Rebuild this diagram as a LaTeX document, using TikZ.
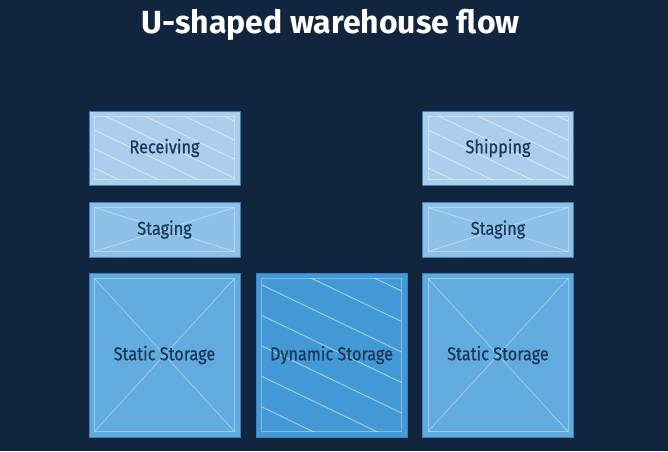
\documentclass[tikz,border=0pt]{standalone}
\usepackage{fontspec}
\setmainfont{Fira Sans}
\newfontfamily\labelfont[FakeStretch=0.88,FakeBold=0.6]{Fira Sans}
\usetikzlibrary{calc}
\definecolor{bgc}{HTML}{11253F}
\definecolor{recvc}{HTML}{AACDEB}
\definecolor{stagc}{HTML}{8DC0E7}
\definecolor{statc}{HTML}{62ABDF}
\definecolor{dync}{HTML}{4299D5}
\definecolor{txtc}{HTML}{1A3758}
\definecolor{edgec}{HTML}{3F80BA}
\tikzset{
  zone/.style={draw=edgec, line width=1pt, minimum width=151pt, inner sep=0pt,
    font=\labelfont\fontsize{18.5}{22}\selectfont, text=txtc},
  innerline/.style={draw=white, draw opacity=0.35, line width=1pt},
  hatchline/.style={draw=white, draw opacity=0.5, line width=1pt},
  titlestyle/.style={font=\bfseries\fontsize{32}{38}\selectfont, text=white}
}
\newcommand\innerrect[1]{%
  \draw[innerline] ([shift={(6pt,-6pt)}]#1.north west) rectangle ([shift={(-6pt,6pt)}]#1.south east);}
\newcommand\crosslines[1]{%
  \draw[innerline] ([shift={(6pt,-6pt)}]#1.north west) -- ([shift={(-6pt,6pt)}]#1.south east);
  \draw[innerline] ([shift={(-6pt,-6pt)}]#1.north east) -- ([shift={(6pt,6pt)}]#1.south west);}
% #1 node, #2 px, #3 py, #4 spacing, #5 k list
\newcommand\hatch[5]{%
  \begin{scope}
    \clip ([shift={(6pt,-6pt)}]#1.north west) rectangle ([shift={(-6pt,6pt)}]#1.south east);
    \foreach \k in {#5} {
      \draw[hatchline] (#2-250,#3-120+\k*#4) -- (#2+250,#3+120+\k*#4);
    }
  \end{scope}}
\begin{document}
\begin{tikzpicture}[x=1pt,y=-1pt]
\fill[bgc] (0,0) rectangle (668,451);
\useasboundingbox (0,0) rectangle (668,451);
\node[titlestyle] (title) at (330.5,25) {U-shaped warehouse flow};

\node[zone, fill=recvc, minimum height=74pt] (recv) at (164.5,148) {};
\node[zone, fill=stagc, minimum height=55pt] (stag1) at (164.5,229.5) {};
\node[zone, fill=statc, minimum height=164pt] (stat1) at (164.5,355) {};
\node[zone, fill=dync, minimum height=164pt] (dyn) at (331.5,355) {};
\node[zone, fill=statc, minimum height=164pt] (stat2) at (498,355) {};
\node[zone, fill=stagc, minimum height=55pt] (stag2) at (498,229.5) {};
\node[zone, fill=recvc, minimum height=74pt] (ship) at (498,148) {};

\hatch{recv}{105}{116}{19}{-4,...,4}
\hatch{ship}{438.5}{116}{19}{-4,...,4}
\hatch{dyn}{313}{279}{30.5}{-3,...,6}
\crosslines{stag1}\crosslines{stag2}\crosslines{stat1}\crosslines{stat2}
\foreach \n in {recv,stag1,stat1,dyn,stat2,stag2,ship} {\innerrect{\n}}

\node[zone, draw=none, fill=none] at (recv) {Receiving};
\node[zone, draw=none, fill=none] at (stag1) {Staging};
\node[zone, draw=none, fill=none] at (stat1) {Static Storage};
\node[zone, draw=none, fill=none] at (dyn) {Dynamic Storage};
\node[zone, draw=none, fill=none] at (stat2) {Static Storage};
\node[zone, draw=none, fill=none] at (stag2) {Staging};
\node[zone, draw=none, fill=none] at (ship) {Shipping};
\end{tikzpicture}
\end{document}
